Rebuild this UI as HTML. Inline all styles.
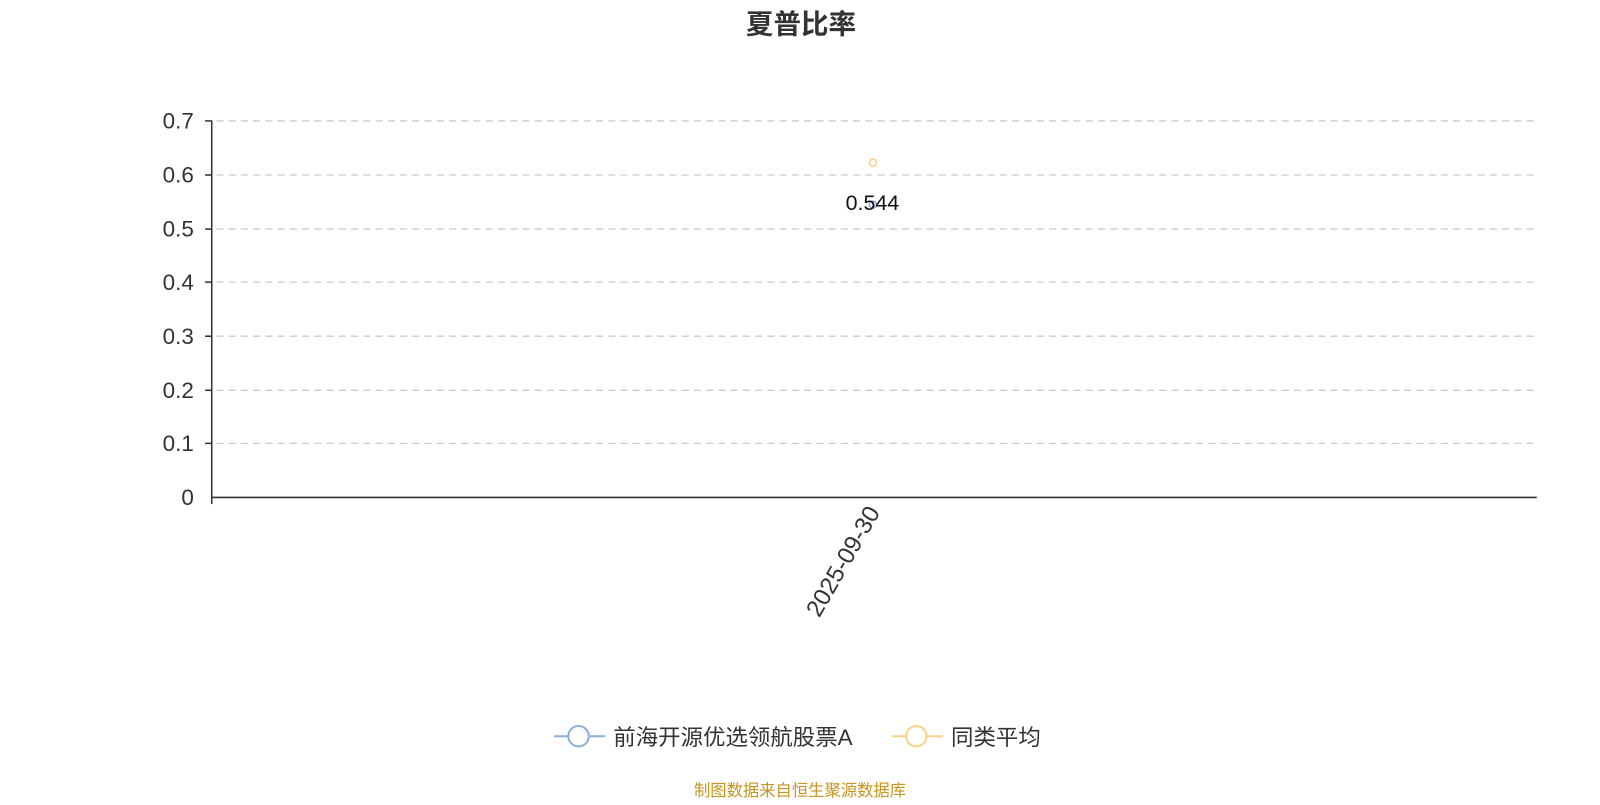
<!DOCTYPE html>
<html><head><meta charset="utf-8"><style>
html,body{margin:0;padding:0;background:#fff;overflow:hidden;}
svg text{font-family:"Liberation Sans","Noto Sans CJK SC",sans-serif;}
</style></head><body>
<svg width="1600" height="800" xmlns="http://www.w3.org/2000/svg">
<g transform="scale(1.0204)">
<text x="785" y="33" text-anchor="middle" font-size="27" font-weight="bold" fill="#333">夏普比率</text>
<g stroke="#ccc" stroke-width="1.3" stroke-dasharray="7,5">
<line x1="212" y1="118.5" x2="1505" y2="118.5"/>
<line x1="212" y1="171.5" x2="1505" y2="171.5"/>
<line x1="212" y1="224.5" x2="1505" y2="224.5"/>
<line x1="212" y1="276.5" x2="1505" y2="276.5"/>
<line x1="212" y1="329.5" x2="1505" y2="329.5"/>
<line x1="212" y1="382.5" x2="1505" y2="382.5"/>
<line x1="212" y1="434.5" x2="1505" y2="434.5"/>
</g>
<g stroke="#333" stroke-width="1.5">
<line x1="207.5" y1="118" x2="207.5" y2="487"/>
<line x1="207" y1="487.5" x2="1506" y2="487.5"/>
<line x1="201" y1="118.5" x2="207" y2="118.5"/>
<line x1="201" y1="171.5" x2="207" y2="171.5"/>
<line x1="201" y1="224.5" x2="207" y2="224.5"/>
<line x1="201" y1="276.5" x2="207" y2="276.5"/>
<line x1="201" y1="329.5" x2="207" y2="329.5"/>
<line x1="201" y1="382.5" x2="207" y2="382.5"/>
<line x1="201" y1="434.5" x2="207" y2="434.5"/>
<line x1="207.5" y1="487" x2="207.5" y2="494"/>
</g>
<g font-size="22" fill="#333" text-anchor="end">
<text x="190" y="126">0.7</text>
<text x="190" y="179">0.6</text>
<text x="190" y="232">0.5</text>
<text x="190" y="284">0.4</text>
<text x="190" y="337">0.3</text>
<text x="190" y="390">0.2</text>
<text x="190" y="442">0.1</text>
<text x="190" y="495">0</text>
</g>
<text transform="translate(863,502) rotate(-60)" text-anchor="end" font-size="23.5" fill="#333">2025-09-30</text>
<circle cx="855.5" cy="159.5" r="3.5" fill="#fff" stroke="#fdd08a" stroke-width="1.5"/>
<circle cx="855.5" cy="200.5" r="3.5" fill="#fff" stroke="#8eaedc" stroke-width="1.5"/>
<text x="855" y="206" text-anchor="middle" font-size="21" fill="#111">0.544</text>
<line x1="543" y1="721.5" x2="593" y2="721.5" stroke="#8eaedc" stroke-width="2"/>
<circle cx="567" cy="721.5" r="10" fill="#fff" stroke="#8eaedc" stroke-width="2"/>
<text x="601" y="730" font-size="22" fill="#333">前海开源优选领航股票A</text>
<line x1="874" y1="721.5" x2="924" y2="721.5" stroke="#fdd08a" stroke-width="2"/>
<circle cx="898" cy="721.5" r="10" fill="#fff" stroke="#fdd08a" stroke-width="2"/>
<text x="932" y="730" font-size="22" fill="#333">同类平均</text>
<text x="784" y="780" text-anchor="middle" font-size="16" fill="#c8941e">制图数据来自恒生聚源数据库</text>
</g>
</svg>
</body></html>
